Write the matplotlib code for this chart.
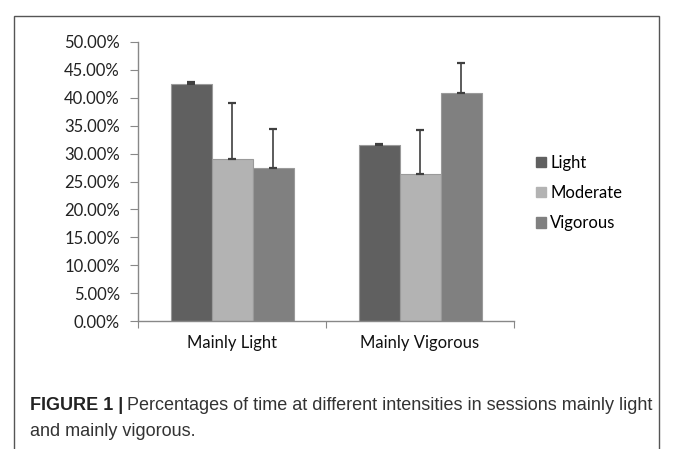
import matplotlib
matplotlib.use("Agg")
import matplotlib.pyplot as plt
import matplotlib.patches as mpatches
import numpy as np
from matplotlib import font_manager

categories = ["Mainly Light", "Mainly Vigorous"]
series = ["Light", "Moderate", "Vigorous"]
light = [0.425, 0.315]
moderate = [0.290, 0.264]
vigorous = [0.275, 0.409]
light_err = [0.003, 0.003]
moderate_err = [0.100, 0.078]
vigorous_err = [0.069, 0.054]
yticks = [i * 0.05 for i in range(11)]
ytick_labels = ["%.2f%%" % (t * 100) for t in yticks]

colors = ["#606060", "#b3b3b3", "#808080"]

W, H = 673, 449
fig = plt.figure(figsize=(W / 100, H / 100), dpi=100)

avail = {f.name for f in font_manager.fontManager.ttflist}
chart_font = "Lato" if "Lato" in avail else "DejaVu Sans"
cap_font = "Liberation Sans Narrow" if "Liberation Sans Narrow" in avail else "Liberation Sans"
cap_size = 13 if cap_font == "Liberation Sans" else 15

ax = fig.add_axes([138 / W, 1 - 321 / H, (514 - 138) / W, (321 - 42) / H])

x = np.arange(len(categories))
w = 41 / 188
vals = [light, moderate, vigorous]
errs = [light_err, moderate_err, vigorous_err]
handles = []
for i, (v, e, c, name) in enumerate(zip(vals, errs, colors, series)):
    ax.bar(x + (i - 1) * w, v, width=w, color=c, edgecolor="#9a9a9a",
           linewidth=0.8, label=name, zorder=2)
    ax.errorbar(x + (i - 1) * w, v, yerr=[np.zeros(len(e)), e], fmt="none",
                ecolor="#404040", elinewidth=1.2, capsize=3, capthick=1.6, zorder=3)
    handles.append(mpatches.Patch(color=c, label=name))

ax.set_xlim(-0.5, 1.5)
ax.set_ylim(0, 0.5)
ax.set_yticks(yticks)
ax.set_yticklabels(ytick_labels, fontsize=12, family=chart_font, color="#222222")
ax.set_xticks([-0.5, 0.5, 1.5])
ax.set_xticklabels([])
ax.set_xticks(x, minor=True)
ax.set_xticklabels(categories, minor=True, fontsize=12, family=chart_font, color="#111111")
ax.tick_params(axis="x", which="minor", length=0, pad=10)
ax.tick_params(axis="x", which="major", length=5, color="#888888", direction="out")
ax.tick_params(axis="y", length=6, color="#888888", direction="out", pad=7)
for s in ["top", "right"]:
    ax.spines[s].set_visible(False)
for s in ["left", "bottom"]:
    ax.spines[s].set_color("#888888")
    ax.spines[s].set_linewidth(1)

fig.legend(handles=handles, loc="center left", bbox_to_anchor=(521 / W, 1 - 193 / H),
           frameon=False, prop={"family": chart_font, "size": 12},
           handlelength=0.6, handleheight=0.6, handletextpad=0.25, labelspacing=0.85)

# outer frame
rect = mpatches.Rectangle((14 / W, -0.1), (659 - 14) / W, 0.1 + (1 - 16 / H),
                          transform=fig.transFigure, fill=False, edgecolor="#555555",
                          linewidth=1, clip_on=False)
fig.add_artist(rect)

# caption
t1 = fig.text(30 / W, 1 - 406 / H, "FIGURE 1 |", fontsize=cap_size, fontweight="bold",
              family=cap_font, color="#222222", va="center")
fig.canvas.draw()
bb = t1.get_window_extent(renderer=fig.canvas.get_renderer())
fig.text(bb.x1 / W + 4 / W, 1 - 406 / H,
         "Percentages of time at different intensities in sessions mainly light",
         fontsize=cap_size, family=cap_font, color="#333333", va="center")
fig.text(30 / W, 1 - 431 / H, "and mainly vigorous.", fontsize=cap_size, family=cap_font,
         color="#333333", va="center")

fig.savefig("out.png", dpi=100)
